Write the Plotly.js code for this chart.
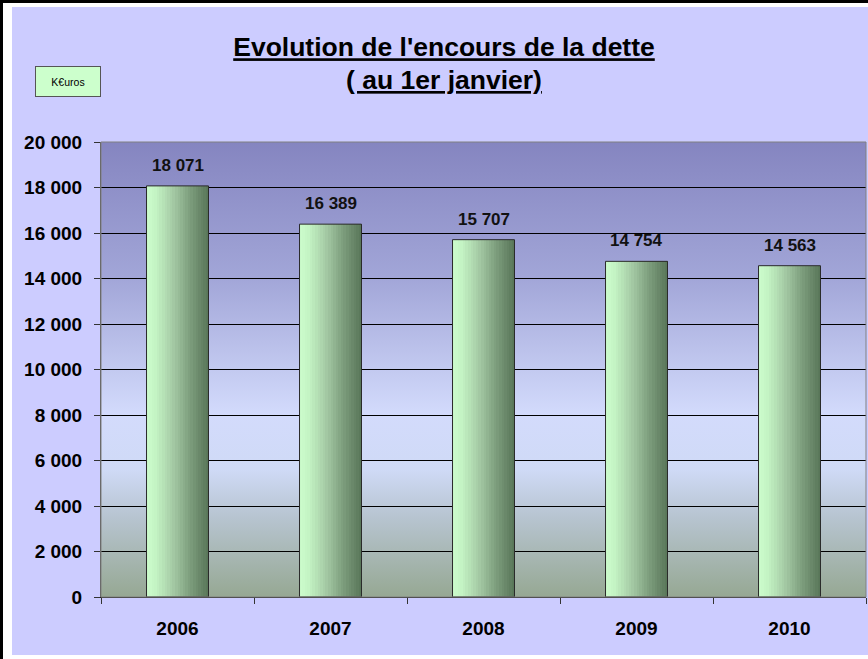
<!DOCTYPE html>
<html>
<head>
<meta charset="utf-8">
<script src="https://cdn.plot.ly/plotly-3.0.1.min.js"></script>
<style>html,body{margin:0;padding:0;background:#fff;}#chart{width:868px;height:659px;}</style>
</head>
<body>
<div id="chart"></div>
<script>
// ---- data ----
const years = ['2006', '2007', '2008', '2009', '2010'];
const debt = [18071, 16389, 15707, 14754, 14563];
const unitLabel = 'K€uros';
const titleLine1 = "Evolution de l'encours de la dette";
const titleLine2 = '( au 1er janvier)';

// ---- geometry / style ----
const W = 868, H = 659;
const M = {l: 101, r: 2, t: 142, b: 62};
const PW = W - M.l - M.r, PH = H - M.t - M.b;
const px2x = px => (px - M.l) / PW;
const py2y = py => (H - M.b - py) / PH;
const FONT = 'Arial, "Liberation Sans", Helvetica, sans-serif';

function fmt(v) { return String(v).replace(/\B(?=(\d{3})+(?!\d))/g, ' '); }

// bar gradient via vertical strips
const barW = 0.405;
const N = 24;
const stops = [[0, [204, 252, 204]], [0.15, [196, 244, 196]], [0.4, [168, 206, 168]], [0.65, [132, 166, 132]], [0.85, [106, 136, 106]], [1, [88, 118, 88]]];
function colAt(t) {
  for (let k = 1; k < stops.length; k++) {
    if (t <= stops[k][0]) {
      const a = stops[k - 1], b = stops[k];
      const f = (t - a[0]) / (b[0] - a[0]);
      const c = a[1].map((v, j) => Math.round(v + (b[1][j] - v) * f));
      return 'rgb(' + c.join(',') + ')';
    }
  }
  return 'rgb(' + stops[stops.length - 1][1].join(',') + ')';
}
const traces = [];
for (let i = 0; i < N; i++) {
  const sw = barW / N;
  traces.push({
    type: 'bar', x: years, y: debt,
    width: years.map(() => sw * 1.15),
    offset: years.map(() => -barW / 2 + i * sw),
    marker: {color: colAt((i + 0.5) / N), line: {width: 0}},
    hoverinfo: 'skip', showlegend: false
  });
}
traces.push({
  type: 'bar', x: years, y: debt,
  width: years.map(() => barW),
  offset: years.map(() => -barW / 2),
  marker: {color: 'rgba(0,0,0,0)', line: {width: 1, color: '#2a2a2a'}},
  showlegend: false,
  hovertemplate: '%{x}: %{y:,d}<extra></extra>'
});

// plot background gradient
const bgSvg = '<svg xmlns="http://www.w3.org/2000/svg" width="100" height="100" preserveAspectRatio="none">' +
  '<defs><linearGradient id="g" x1="0" y1="0" x2="0" y2="1">' +
  '<stop offset="0" stop-color="#8585c0"/>' +
  '<stop offset="0.3" stop-color="#a2a6d8"/>' +
  '<stop offset="0.6" stop-color="#d3dbfc"/>' +
  '<stop offset="0.72" stop-color="#cfdaf6"/>' +
  '<stop offset="0.82" stop-color="#b8c5d2"/>' +
  '<stop offset="1" stop-color="#96a893"/>' +
  '</linearGradient></defs><rect width="100" height="100" fill="url(#g)"/></svg>';
const bgSrc = 'data:image/svg+xml;charset=utf-8,' + encodeURIComponent(bgSvg);

const annotations = years.map((yr, i) => ({
  x: i, y: debt[i], xref: 'x', yref: 'y',
  text: '<b>' + fmt(debt[i]) + '</b>',
  showarrow: false, yanchor: 'bottom', yshift: 9,
  font: {family: FONT, size: 17, color: '#111'}
}));
annotations.push({
  x: px2x(444), y: py2y(80), xref: 'paper', yref: 'paper',
  text: '<b><u>' + titleLine2 + '</u></b>', showarrow: false,
  xanchor: 'center', yanchor: 'middle',
  font: {family: FONT, size: 26.5, color: '#000'}
});
annotations.push({
  x: px2x(68), y: py2y(81), xref: 'paper', yref: 'paper',
  text: unitLabel, showarrow: false,
  xanchor: 'center', yanchor: 'middle',
  width: 62, height: 27,
  bgcolor: '#ccffcc', bordercolor: '#555', borderwidth: 1, borderpad: 1,
  font: {family: FONT, size: 10.5, color: '#000'}
});

const shapes = [
  // outer frame: black left/top, white inner strips
  {type: 'rect', xref: 'paper', yref: 'paper', x0: px2x(3), x1: px2x(12), y0: py2y(H + 5), y1: py2y(-5), fillcolor: '#fff', line: {width: 0}, layer: 'above'},
  {type: 'rect', xref: 'paper', yref: 'paper', x0: px2x(0), x1: px2x(W + 5), y0: py2y(7), y1: py2y(3), fillcolor: '#fff', line: {width: 0}, layer: 'above'},
  {type: 'rect', xref: 'paper', yref: 'paper', x0: px2x(3), x1: px2x(W + 5), y0: py2y(H + 5), y1: py2y(655), fillcolor: '#fff', line: {width: 0}, layer: 'above'},
  {type: 'rect', xref: 'paper', yref: 'paper', x0: px2x(-5), x1: px2x(3), y0: py2y(H + 5), y1: py2y(-5), fillcolor: '#000', line: {width: 0}, layer: 'above'},
  {type: 'rect', xref: 'paper', yref: 'paper', x0: px2x(-5), x1: px2x(W + 5), y0: py2y(3), y1: py2y(-5), fillcolor: '#000', line: {width: 0}, layer: 'above'},
  // plot area border
  {type: 'rect', xref: 'paper', yref: 'paper', x0: 0, x1: 1, y0: 0, y1: 1, line: {width: 1, color: '#808080'}, layer: 'above'}
];

const layout = {
  width: W, height: H,
  margin: M,
  paper_bgcolor: '#ccccff',
  plot_bgcolor: 'rgba(0,0,0,0)',
  separators: ', ',
  barmode: 'overlay',
  bargap: 0,
  font: {family: FONT, color: '#000'},
  title: {
    text: '<b><u>' + titleLine1 + '</u></b>',
    font: {family: FONT, size: 26.5, color: '#000'},
    x: 444 / W, xref: 'container', xanchor: 'center',
    y: 1 - 47 / H, yref: 'container', yanchor: 'middle'
  },
  xaxis: {
    type: 'category',
    range: [-0.5, years.length - 0.5],
    autorange: false,
    showgrid: false,
    showline: true, linecolor: '#222', linewidth: 1,
    ticks: 'outside', tickson: 'boundaries', ticklen: 6, tickcolor: '#333',
    tickfont: {family: FONT, size: 19, color: '#000', weight: 'bold'},
    ticklabelstandoff: 14,
    tickangle: 0,
    fixedrange: true
  },
  yaxis: {
    range: [0, 20000], autorange: false, dtick: 2000, tick0: 0,
    tickformat: ',d',
    showgrid: true, gridcolor: '#000', gridwidth: 1,
    zeroline: false,
    showline: true, linecolor: '#555', linewidth: 1,
    ticks: 'outside', ticklen: 6, tickcolor: '#333',
    tickfont: {family: FONT, size: 19, color: '#000', weight: 'bold'},
    ticklabelstandoff: 8,
    fixedrange: true
  },
  images: [{source: bgSrc, xref: 'paper', yref: 'paper', x: 0, y: 1, sizex: 1, sizey: 1, sizing: 'stretch', xanchor: 'left', yanchor: 'top', layer: 'below'}],
  annotations: annotations,
  shapes: shapes
};

Plotly.newPlot('chart', traces, layout, {displayModeBar: false, staticPlot: true});
</script>
</body>
</html>
